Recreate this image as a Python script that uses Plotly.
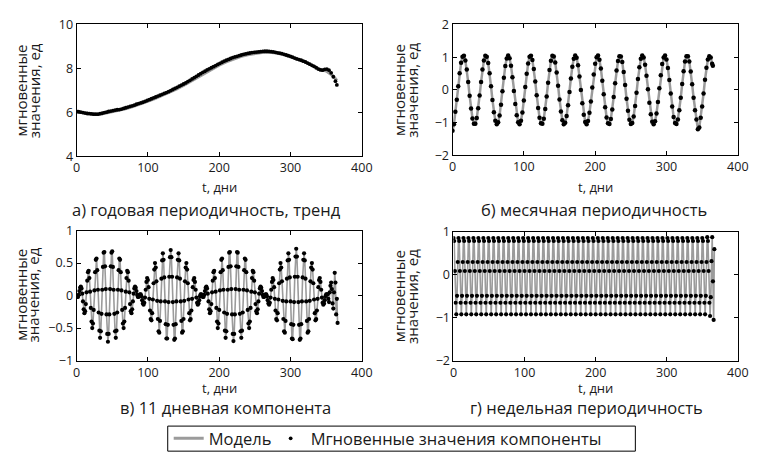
import plotly.graph_objects as go

W, H = 764, 463
FONT = "Open Sans"
GRAY = "#9b9b9b"
TXT = "#1a1a1a"

# ---------------- data ----------------
# a) yearly trend (instantaneous values, every 3 days) and model
days_a = list(range(0, 364, 3)) + [365]
inst_a = [6.04, 6.03, 6.01, 5.99, 5.97, 5.95, 5.94, 5.93, 5.92, 5.92, 5.92, 5.94, 5.96, 5.99,
          6.01, 6.04, 6.06, 6.08, 6.10, 6.12, 6.13, 6.15, 6.18, 6.21, 6.24, 6.27, 6.30, 6.33,
          6.37, 6.40, 6.43, 6.46, 6.50, 6.54, 6.58, 6.62, 6.66, 6.70, 6.74, 6.78, 6.82, 6.86,
          6.90, 6.94, 6.99, 7.04, 7.09, 7.14, 7.19, 7.24, 7.29, 7.34, 7.40, 7.46, 7.52, 7.58,
          7.64, 7.70, 7.76, 7.82, 7.87, 7.93, 7.98, 8.03, 8.08, 8.13, 8.18, 8.23, 8.28, 8.33,
          8.37, 8.41, 8.45, 8.49, 8.52, 8.55, 8.58, 8.61, 8.64, 8.66, 8.68, 8.70, 8.72, 8.73,
          8.74, 8.75, 8.76, 8.77, 8.78, 8.78, 8.77, 8.76, 8.75, 8.73, 8.71, 8.69, 8.67, 8.64,
          8.61, 8.58, 8.55, 8.51, 8.47, 8.43, 8.40, 8.37, 8.33, 8.29, 8.24, 8.19, 8.14, 8.09,
          8.03, 7.97, 7.93, 7.92, 7.96, 7.97, 7.92, 7.80, 7.62, 7.42, 7.25]
days_a_model = list(range(0, 361, 10)) + [365]
model_a = [6.02, 5.98, 5.93, 5.91, 5.96, 6.03, 6.09, 6.17, 6.27, 6.38, 6.50, 6.63, 6.77,
           6.91, 7.06, 7.23, 7.41, 7.60, 7.80, 7.98, 8.15, 8.30, 8.43, 8.54, 8.62, 8.68,
           8.72, 8.73, 8.70, 8.63, 8.53, 8.42, 8.30, 8.15, 7.98, 7.88, 7.65, 7.45]

# b) monthly periodicity (every 2 days)
days_b = list(range(0, 365, 2)) + [365]
inst_b = [-1.25, -1.05, -0.67, -0.30, 0.11, 0.51, 0.83, 1.01, 1.04, 0.90, 0.62,
          0.24, -0.18, -0.57, -0.87, -1.03, -1.03, -0.86, -0.56, -0.17, 0.24, 0.62,
          0.90, 1.04, 1.01, 0.82, 0.51, 0.11, -0.31, -0.68, -0.94, -1.05, -0.99,
          -0.78, -0.45, -0.04, 0.37, 0.73, 0.96, 1.05, 0.97, 0.74, 0.39, -0.03,
          -0.43, -0.77, -0.99, -1.05, -0.94, -0.69, -0.32, 0.09, 0.49, 0.81, 1.01,
          1.04, 0.91, 0.64, 0.26, -0.16, -0.55, -0.85, -1.02, -1.03, -0.88, -0.58,
          -0.20, 0.22, 0.61, 0.89, 1.04, 1.02, 0.84, 0.53, 0.13, -0.29, -0.66,
          -0.93, -1.05, -1.00, -0.80, -0.47, -0.06, 0.35, 0.71, 0.95, 1.05, 0.98,
          0.75, 0.41, 0.00, -0.41, -0.76, -0.98, -1.05, -0.95, -0.70, -0.35, 0.07,
          0.47, 0.80, 1.00, 1.05, 0.92, 0.65, 0.28, -0.13, -0.53, -0.84, -1.02,
          -1.04, -0.89, -0.60, -0.22, 0.20, 0.59, 0.88, 1.03, 1.02, 0.85, 0.55,
          0.15, -0.27, -0.64, -0.91, -1.04, -1.01, -0.81, -0.49, -0.09, 0.33, 0.69,
          0.95, 1.05, 0.99, 0.77, 0.43, 0.02, -0.39, -0.74, -0.97, -1.05, -0.96,
          -0.72, -0.37, 0.05, 0.45, 0.79, 0.99, 1.05, 0.93, 0.67, 0.30, -0.11,
          -0.51, -0.83, -1.01, -1.04, -0.90, -0.62, -0.24, 0.18, 0.57, 0.87, 1.03,
          1.03, 0.87, 0.56, 0.17, -0.24, -0.62, -0.90, -1.20, -1.15, -0.85, -0.51,
          -0.11, 0.31, 0.68, 0.93, 1.03, 0.99, 0.80,
          0.74]

# c) 11-day component (daily)
days_c = list(range(0, 367))
inst_c = [0.00, -0.02, -0.02, 0.01, 0.07, 0.12, 0.14, 0.11, 0.03, -0.09, -0.21,
          -0.27, -0.24, -0.13, 0.05, 0.23, 0.36, 0.38, 0.27, 0.06, -0.19, -0.40,
          -0.50, -0.43, -0.22, 0.08, 0.36, 0.55, 0.57, 0.39, 0.09, -0.26, -0.54,
          -0.65, -0.55, -0.28, 0.09, 0.44, 0.66, 0.67, 0.45, 0.10, -0.29, -0.59,
          -0.71, -0.59, -0.29, 0.10, 0.45, 0.66, 0.68, 0.44, 0.09, -0.28, -0.55,
          -0.65, -0.54, -0.26, 0.09, 0.39, 0.57, 0.55, 0.36, 0.08, -0.22, -0.43,
          -0.50, -0.40, -0.19, 0.06, 0.27, 0.38, 0.36, 0.23, 0.05, -0.13, -0.24,
          -0.27, -0.21, -0.09, 0.03, 0.11, 0.14, 0.12, 0.07, 0.01, -0.02, -0.02,
          0.00, 0.02, 0.02, -0.01, -0.07, -0.12, -0.14, -0.11, -0.03, 0.09, 0.21,
          0.27, 0.24, 0.13, -0.05, -0.23, -0.36, -0.38, -0.27, -0.06, 0.19, 0.40,
          0.50, 0.43, 0.22, -0.08, -0.36, -0.55, -0.57, -0.39, -0.09, 0.26, 0.54,
          0.65, 0.55, 0.28, -0.09, -0.44, -0.66, -0.66, -0.45, -0.10, 0.29, 0.59,
          0.70, 0.59, 0.29, -0.10, -0.45, -0.68, -0.66, -0.44, -0.09, 0.28, 0.55,
          0.65, 0.54, 0.26, -0.09, -0.39, -0.57, -0.55, -0.36, -0.08, 0.22, 0.43,
          0.50, 0.40, 0.19, -0.06, -0.27, -0.38, -0.36, -0.23, -0.05, 0.13, 0.24,
          0.27, 0.21, 0.09, -0.03, -0.11, -0.14, -0.12, -0.07, -0.01, 0.02, 0.02,
          0.00, -0.02, -0.02, 0.01, 0.07, 0.12, 0.14, 0.11, 0.03, -0.09, -0.21,
          -0.27, -0.24, -0.13, 0.05, 0.23, 0.36, 0.38, 0.27, 0.06, -0.19, -0.40,
          -0.50, -0.43, -0.22, 0.08, 0.36, 0.55, 0.57, 0.39, 0.09, -0.26, -0.54,
          -0.65, -0.55, -0.28, 0.09, 0.44, 0.66, 0.67, 0.45, 0.10, -0.29, -0.59,
          -0.70, -0.59, -0.29, 0.10, 0.45, 0.67, 0.66, 0.44, 0.09, -0.28, -0.55,
          -0.65, -0.54, -0.26, 0.09, 0.39, 0.57, 0.55, 0.36, 0.08, -0.22, -0.43,
          -0.50, -0.40, -0.19, 0.06, 0.27, 0.38, 0.36, 0.23, 0.05, -0.13, -0.24,
          -0.27, -0.21, -0.09, 0.03, 0.11, 0.14, 0.12, 0.07, 0.01, -0.02, -0.02,
          0.00, 0.02, 0.02, -0.01, -0.07, -0.12, -0.14, -0.11, -0.03, 0.09, 0.21,
          0.27, 0.24, 0.13, -0.05, -0.23, -0.36, -0.38, -0.27, -0.06, 0.19, 0.40,
          0.50, 0.43, 0.22, -0.08, -0.36, -0.55, -0.57, -0.39, -0.09, 0.26, 0.54,
          0.65, 0.55, 0.28, -0.09, -0.44, -0.66, -0.67, -0.45, -0.10, 0.29, 0.60,
          0.72, 0.60, 0.29, -0.10, -0.45, -0.68, -0.66, -0.44, -0.09, 0.28, 0.55,
          0.65, 0.54, 0.26, -0.09, -0.39, -0.57, -0.55, -0.36, -0.08, 0.22, 0.43,
          0.50, 0.40, 0.19, -0.06, -0.27, -0.38, -0.36, -0.23, -0.05, 0.13, 0.24,
          0.27, 0.21, 0.09, -0.03, -0.11, -0.14, -0.12, -0.07, -0.01, 0.02, 0.02,
          0.02, -0.05, -0.10, 0.05, 0.15, 0.20, 0.10, -0.12, -0.20, 0.05, 0.35,
          0.20, -0.29, -0.05, -0.42]

# d) weekly periodicity (daily)
days_d = list(range(0, 368))
inst_d = [0.86, 0.79, 0.09, -0.65, -0.92, -0.49, 0.30,
          0.86, 0.79, 0.09, -0.65, -0.92, -0.49, 0.30,
          0.86, 0.79, 0.09, -0.65, -0.92, -0.49, 0.30,
          0.86, 0.79, 0.09, -0.65, -0.92, -0.49, 0.30,
          0.86, 0.79, 0.09, -0.65, -0.92, -0.49, 0.30,
          0.86, 0.79, 0.09, -0.65, -0.92, -0.49, 0.30,
          0.86, 0.79, 0.09, -0.65, -0.92, -0.49, 0.30,
          0.86, 0.79, 0.09, -0.65, -0.92, -0.49, 0.30,
          0.86, 0.79, 0.09, -0.65, -0.92, -0.49, 0.30,
          0.86, 0.79, 0.09, -0.65, -0.92, -0.49, 0.30,
          0.86, 0.79, 0.09, -0.65, -0.92, -0.49, 0.30,
          0.86, 0.79, 0.09, -0.65, -0.92, -0.49, 0.30,
          0.86, 0.79, 0.09, -0.65, -0.92, -0.49, 0.30,
          0.86, 0.79, 0.09, -0.65, -0.92, -0.49, 0.30,
          0.86, 0.79, 0.09, -0.65, -0.92, -0.49, 0.30,
          0.86, 0.79, 0.09, -0.65, -0.92, -0.49, 0.30,
          0.86, 0.79, 0.09, -0.65, -0.92, -0.49, 0.30,
          0.86, 0.79, 0.09, -0.65, -0.92, -0.49, 0.30,
          0.86, 0.79, 0.09, -0.65, -0.92, -0.49, 0.30,
          0.86, 0.79, 0.09, -0.65, -0.92, -0.49, 0.30,
          0.86, 0.79, 0.09, -0.65, -0.92, -0.49, 0.30,
          0.86, 0.79, 0.09, -0.65, -0.92, -0.49, 0.30,
          0.86, 0.79, 0.09, -0.65, -0.92, -0.49, 0.30,
          0.86, 0.79, 0.09, -0.65, -0.92, -0.49, 0.30,
          0.86, 0.79, 0.09, -0.65, -0.92, -0.49, 0.30,
          0.86, 0.79, 0.09, -0.65, -0.92, -0.49, 0.30,
          0.86, 0.79, 0.09, -0.65, -0.92, -0.49, 0.30,
          0.86, 0.79, 0.09, -0.65, -0.92, -0.49, 0.30,
          0.86, 0.79, 0.09, -0.65, -0.92, -0.49, 0.30,
          0.86, 0.79, 0.09, -0.65, -0.92, -0.49, 0.30,
          0.86, 0.79, 0.09, -0.65, -0.92, -0.49, 0.30,
          0.86, 0.79, 0.09, -0.65, -0.92, -0.49, 0.30,
          0.86, 0.79, 0.09, -0.65, -0.92, -0.49, 0.30,
          0.86, 0.79, 0.09, -0.65, -0.92, -0.49, 0.30,
          0.86, 0.79, 0.09, -0.65, -0.92, -0.49, 0.30,
          0.86, 0.79, 0.09, -0.65, -0.92, -0.49, 0.30,
          0.86, 0.79, 0.09, -0.65, -0.92, -0.49, 0.30,
          0.86, 0.79, 0.09, -0.65, -0.92, -0.49, 0.30,
          0.86, 0.79, 0.09, -0.65, -0.92, -0.49, 0.30,
          0.86, 0.79, 0.09, -0.65, -0.92, -0.49, 0.30,
          0.86, 0.79, 0.09, -0.65, -0.92, -0.49, 0.30,
          0.86, 0.79, 0.09, -0.65, -0.92, -0.49, 0.30,
          0.86, 0.79, 0.09, -0.65, -0.92, -0.49, 0.30,
          0.86, 0.79, 0.09, -0.65, -0.92, -0.49, 0.30,
          0.86, 0.79, 0.09, -0.65, -0.92, -0.49, 0.30,
          0.86, 0.79, 0.09, -0.65, -0.92, -0.49, 0.30,
          0.86, 0.79, 0.09, -0.65, -0.92, -0.49, 0.30,
          0.86, 0.79, 0.09, -0.65, -0.92, -0.49, 0.30,
          0.86, 0.79, 0.09, -0.65, -0.92, -0.49, 0.30,
          0.86, 0.79, 0.09, -0.65, -0.92, -0.49, 0.30,
          0.86, 0.79, 0.09, -0.65, -0.92, -0.49, 0.30,
          0.88, 0.79, 0.09, -0.65, -0.96, -0.52, 0.32,
          0.88, -0.15, -1.05, 0.60]

# labels
xtitle = "t, дни"
ytitle_lines = ["мгновенные", "значения, ед"]
captions = ["а) годовая периодичность, тренд", "б) месячная периодичность",
            "в) 11 дневная компонента", "г) недельная периодичность"]
legend_names = ["Модель", "Мгновенные значения компоненты"]

# ---------------- figure ----------------
def px(x):
    return x / W

def py(y):
    return 1 - y / H

fig = go.Figure()

series = [
    (days_a_model, model_a, days_a, inst_a, "x", "y", 3.0, 3.8),
    (days_b, inst_b, days_b, inst_b, "x2", "y2", 2.5, 4.5),
    (days_c, inst_c, days_c, inst_c, "x3", "y3", 1.6, 4.2),
    (days_d, inst_d, days_d, inst_d, "x4", "y4", 1.6, 4.2),
]
for i, (xm, ym, xd, yd, xa, ya, lw, ms) in enumerate(series):
    fig.add_trace(go.Scatter(x=xm, y=ym, mode="lines", xaxis=xa, yaxis=ya,
                             line=dict(color=GRAY, width=lw),
                             name=legend_names[0], showlegend=(i == 0), legend="legend"))
    fig.add_trace(go.Scatter(x=xd, y=yd, mode="markers", xaxis=xa, yaxis=ya,
                             marker=dict(color="black", size=ms, line=dict(width=0)),
                             name=legend_names[1], showlegend=(i == 0), legend="legend2"))

dom = {
    "a": ([px(74), px(365)], [py(153), py(16)]),
    "b": ([px(457.5), px(748.5)], [py(152), py(16)]),
    "c": ([px(74), px(365)], [py(365), py(230)]),
    "d": ([px(458.5), px(748.5)], [py(365), py(231.5)]),
}
yranges = {"a": [4, 10], "b": [-2, 2], "c": [-1, 1], "d": [-2, 1]}
ydt = {"a": 2, "b": 1, "c": 0.5, "d": 1}

axis_common = dict(showline=True, linecolor="black", linewidth=1, mirror="ticks",
                   ticks="inside", ticklen=4, tickcolor="black", showgrid=False,
                   zeroline=False, tickfont=dict(family=FONT, size=12.5, color=TXT))

for name, sfx in zip("abcd", ["", "2", "3", "4"]):
    xd_, yd_ = dom[name]
    fig.update_layout(**{
        "xaxis" + sfx: dict(domain=xd_, range=[0, 400], dtick=100, tick0=0,
                            anchor="y" + sfx, **axis_common),
        "yaxis" + sfx: dict(domain=yd_, range=yranges[name], dtick=ydt[name],
                            tick0=yranges[name][0], anchor="x" + sfx, **axis_common),
    })

ann = []
def text(x, y, s, size=15, angle=0):
    ann.append(dict(x=px(x), y=py(y), xref="paper", yref="paper", text=s, showarrow=False,
                    xanchor="center", yanchor="middle", textangle=angle,
                    font=dict(family=FONT, size=size, color=TXT)))

# x titles
for (x, y) in [(219.5, 185), (603, 185), (219.5, 393.5), (603, 393.5)]:
    text(x, y, xtitle, 13)
# captions
for (x, y), s in zip([(207, 208), (602, 208), (226, 414), (594, 414)], captions):
    text(x, y, s, 16.5)
# y titles (two rotated lines)
for (x1, x2, y) in [(17, 30, 85), (403, 416, 84), (17, 30, 297), (403, 416, 298)]:
    text(x1, y, ytitle_lines[0], 15, -90)
    text(x2, y, ytitle_lines[1], 15, -90)

leg_common = dict(orientation="h", yanchor="middle", xanchor="left",
                  bgcolor="rgba(0,0,0,0)", borderwidth=0, itemwidth=30,
                  font=dict(family=FONT, size=16.5, color=TXT))
fig.update_layout(
    width=W, height=H,
    margin=dict(l=0, r=0, t=0, b=0),
    paper_bgcolor="white", plot_bgcolor="white",
    annotations=ann,
    showlegend=True,
    legend=dict(x=px(168), y=py(446), **leg_common),
    legend2=dict(x=px(272), y=py(446), **leg_common),
    shapes=[dict(type="rect", xref="paper", yref="paper",
                 x0=px(167), x1=px(644), y0=py(459), y1=py(433),
                 line=dict(color="black", width=1))],
)

fig.write_html("out.html", config={"displayModeBar": False},
               post_script="document.body.style.margin='0';")
